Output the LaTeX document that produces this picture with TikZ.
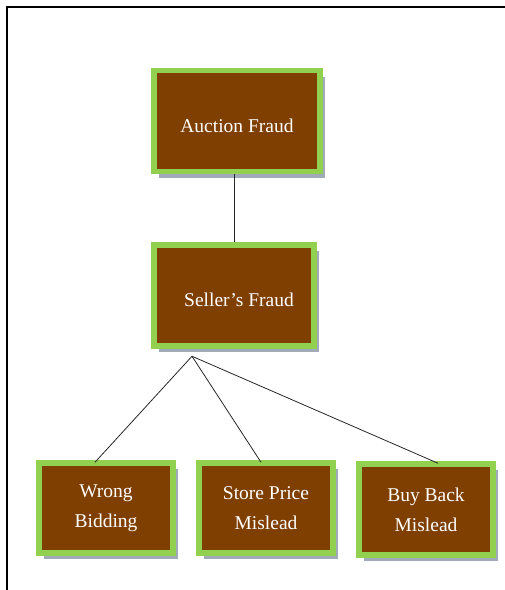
\documentclass[tikz,border=0pt]{standalone}
\usepackage{fontspec}
\setmainfont{Liberation Serif}
\usetikzlibrary{shadows}
\definecolor{fraudbrown}{RGB}{127,63,0}
\definecolor{fraudgreen}{RGB}{146,208,80}
\definecolor{shadowgrey}{RGB}{160,170,185}
\begin{document}
\begin{tikzpicture}[x=1pt,y=-1pt,
        fraud/.style={rectangle,draw=fraudgreen,fill=fraudbrown,line width=5.5pt,
          inner sep=0pt,text=white,align=center,
          font=\fontsize{19.5}{30}\selectfont,
          drop shadow={shadow xshift=5pt,shadow yshift=-6pt,fill=shadowgrey,opacity=1}},
        link/.style={black!85,line width=0.8pt}]
      \useasboundingbox (0,0) rectangle (505,590);
      \draw[line width=2pt] (7,590) -- (7,7) -- (505,7);
      \node (auction) at (237,121) [fraud,minimum width=166pt,minimum height=101pt,text height=26pt,text depth=4pt] {Auction Fraud};
      \node (seller) at (234,295.5) [fraud,minimum width=160pt,minimum height=101pt,text height=25pt,text depth=4pt] {\hspace*{10pt}Seller’s Fraud};
      \node (wrong) at (106,508) [fraud,minimum width=134pt,minimum height=90pt] {Wrong\\Bidding};
      \node (store) at (266,508) [fraud,minimum width=134pt,minimum height=90pt] {Store Price\\Mislead};
      \node (buyback) at (426,509.5) [fraud,minimum width=134pt,minimum height=91pt] {Buy Back\\Mislead};
      \coordinate (fork) at ([xshift=-42pt,yshift=-7.5pt]seller.south);
      \draw[link] (seller.north) -- (seller.north |- auction.south);
      \draw[link] (fork) -- ([xshift=-11pt,yshift=-2pt]wrong.north);
      \draw[link] (fork) -- ([xshift=-5pt,yshift=-2pt]store.north);
      \draw[link] (fork) -- ([xshift=12pt,yshift=-2pt]buyback.north);
\end{tikzpicture}
\end{document}
